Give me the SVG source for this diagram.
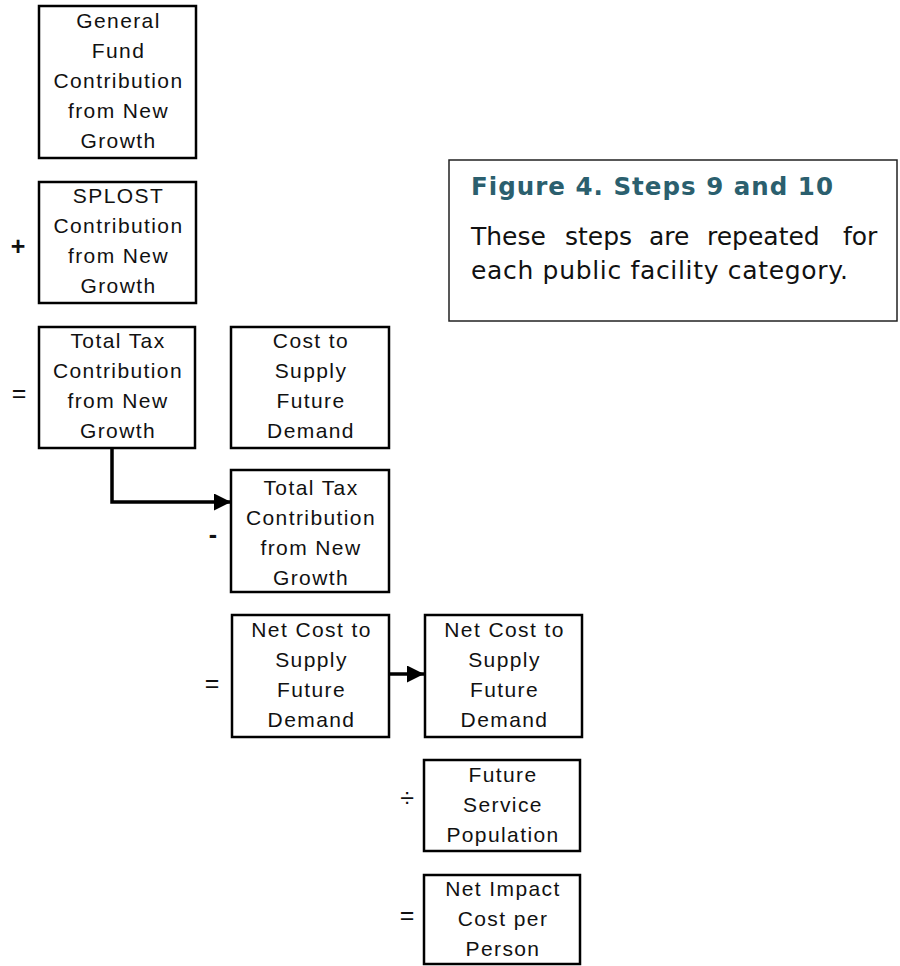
<svg xmlns="http://www.w3.org/2000/svg" width="900" height="966" viewBox="0 0 900 966">
  <defs>
    <marker id="arrowhead" viewBox="0 0 17 17" refX="17" refY="8.5" markerWidth="17" markerHeight="17" markerUnits="userSpaceOnUse" orient="auto">
      <path d="M0,0 L17,8.5 L0,17 Z" fill="#000"/>
    </marker>
  </defs>
  <style>
    .box { fill: #fff; stroke: #000; stroke-width: 2.5; }
    .lbl { font-family: "Liberation Sans", Arial, sans-serif; font-size: 21px; letter-spacing: 1.4px; fill: #111; text-anchor: middle; }
    .op { font-family: "Liberation Sans", Arial, sans-serif; font-size: 25px; fill: #111; text-anchor: middle; }
    .conn { fill: none; stroke: #000; stroke-width: 3.5; }
    .note { fill: #fff; stroke: #222; stroke-width: 1.5; }
    .title { font-family: "DejaVu Sans", Verdana, sans-serif; font-weight: bold; font-size: 24.5px; fill: #2b5f6e; }
    .body { font-family: "DejaVu Sans", Verdana, sans-serif; font-size: 25px; fill: #111; }
  </style>
  <rect width="900" height="966" fill="#fff"/>

  <!-- caption panel -->
  <g id="caption">
    <rect class="note" x="449" y="160" width="448" height="161"/>
    <text class="title" x="471" y="195" textLength="362" lengthAdjust="spacing">Figure 4. Steps 9 and 10</text>
    <text class="body" y="245">
      <tspan x="471">These</tspan><tspan x="565">steps</tspan><tspan x="649">are</tspan><tspan x="707">repeated</tspan><tspan x="843">for</tspan>
    </text>
    <text class="body" x="471" y="279" textLength="377" lengthAdjust="spacing">each public facility category.</text>
  </g>

  <!-- connectors -->
  <g id="connectors">
    <path class="conn" d="M112,448 L112,502 L231,502" marker-end="url(#arrowhead)"/>
    <path class="conn" d="M389,674 L424,674" marker-end="url(#arrowhead)"/>
  </g>

  <!-- operators -->
  <g id="operators">
    <text class="op" x="18" y="255" font-weight="bold">+</text>
    <text class="op" x="19" y="402">=</text>
    <text class="op" x="213" y="543" font-weight="bold">-</text>
    <text class="op" x="212" y="692">=</text>
    <text class="op" x="407" y="807">÷</text>
    <text class="op" x="407" y="924">=</text>
  </g>

  <g id="general-fund">
    <rect class="box" x="39" y="6" width="157" height="152"/>
    <text class="lbl" x="118.5" y="28">General</text>
    <text class="lbl" x="118.5" y="58">Fund</text>
    <text class="lbl" x="118.5" y="88">Contribution</text>
    <text class="lbl" x="118.5" y="118">from New</text>
    <text class="lbl" x="118.5" y="148">Growth</text>
  </g>

  <g id="splost">
    <rect class="box" x="39" y="182" width="157" height="121"/>
    <text class="lbl" x="118.5" y="203">SPLOST</text>
    <text class="lbl" x="118.5" y="233">Contribution</text>
    <text class="lbl" x="118.5" y="263">from New</text>
    <text class="lbl" x="118.5" y="293">Growth</text>
  </g>

  <g id="total-tax">
    <rect class="box" x="39" y="327" width="156" height="121"/>
    <text class="lbl" x="118" y="348">Total Tax</text>
    <text class="lbl" x="118" y="378">Contribution</text>
    <text class="lbl" x="118" y="408">from New</text>
    <text class="lbl" x="118" y="438">Growth</text>
  </g>

  <g id="cost-to-supply">
    <rect class="box" x="231" y="327" width="158" height="121"/>
    <text class="lbl" x="311" y="348">Cost to</text>
    <text class="lbl" x="311" y="378">Supply</text>
    <text class="lbl" x="311" y="408">Future</text>
    <text class="lbl" x="311" y="438">Demand</text>
  </g>

  <g id="total-tax-2">
    <rect class="box" x="231" y="470" width="158" height="122"/>
    <text class="lbl" x="311" y="495">Total Tax</text>
    <text class="lbl" x="311" y="525">Contribution</text>
    <text class="lbl" x="311" y="555">from New</text>
    <text class="lbl" x="311" y="585">Growth</text>
  </g>

  <g id="net-cost">
    <rect class="box" x="232" y="615" width="157" height="122"/>
    <text class="lbl" x="311.5" y="637">Net Cost to</text>
    <text class="lbl" x="311.5" y="667">Supply</text>
    <text class="lbl" x="311.5" y="697">Future</text>
    <text class="lbl" x="311.5" y="727">Demand</text>
  </g>

  <g id="net-cost-2">
    <rect class="box" x="425" y="615" width="157" height="122"/>
    <text class="lbl" x="504.5" y="637">Net Cost to</text>
    <text class="lbl" x="504.5" y="667">Supply</text>
    <text class="lbl" x="504.5" y="697">Future</text>
    <text class="lbl" x="504.5" y="727">Demand</text>
  </g>

  <g id="service-population">
    <rect class="box" x="424" y="760" width="156" height="91"/>
    <text class="lbl" x="503" y="782">Future</text>
    <text class="lbl" x="503" y="812">Service</text>
    <text class="lbl" x="503" y="842">Population</text>
  </g>

  <g id="net-impact">
    <rect class="box" x="424" y="875" width="156" height="89"/>
    <text class="lbl" x="503" y="896">Net Impact</text>
    <text class="lbl" x="503" y="926">Cost per</text>
    <text class="lbl" x="503" y="956">Person</text>
  </g>
</svg>
